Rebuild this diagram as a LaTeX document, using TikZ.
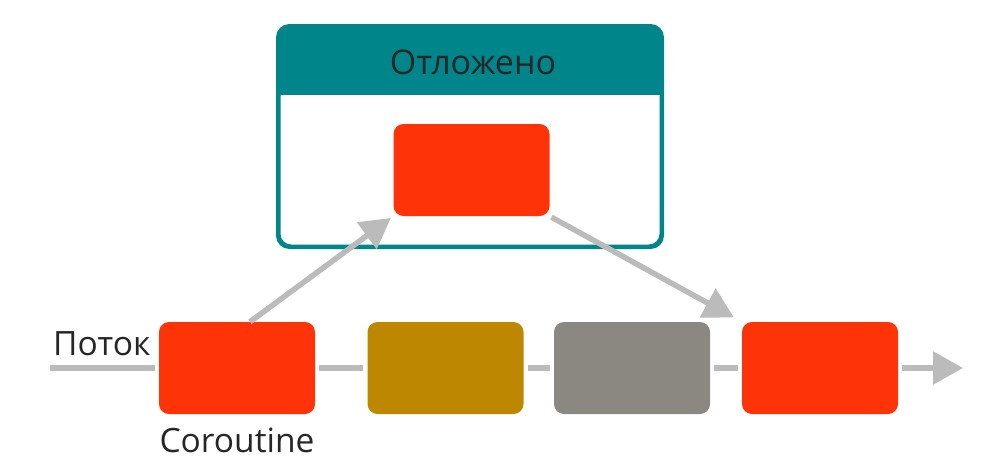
\documentclass[tikz,border=0pt]{standalone}
\usepackage{fontspec}
\setmainfont{Open Sans}
\usetikzlibrary{arrows.meta,positioning,calc}

\definecolor{redbox}{HTML}{FF3308}
\definecolor{goldbox}{HTML}{BD8800}
\definecolor{graybox}{HTML}{8A8880}
\definecolor{tealbox}{HTML}{00858A}
\definecolor{flowline}{HTML}{BBBBBB}

\begin{document}
\begin{tikzpicture}[x=1pt,y=-1pt]
\tikzstyle{task}=[rectangle,rounded corners=10pt,minimum width=156pt,minimum height=92pt,inner sep=0pt]
\tikzstyle{flow}=[draw=flowline,line width=5.5pt]
\tikzstyle{label}=[inner sep=0pt,font=\fontsize{33.5}{40}\selectfont,text=black!85]
\useasboundingbox (0,0) rectangle (1001,469);
% deferred container
\node [draw=tealbox,line width=3pt,rounded corners=12pt,minimum width=382pt,minimum height=219pt] (defer) at (470,136.5) {};
\begin{scope}
  \clip [rounded corners=12pt] (defer.north west) rectangle (defer.south east);
  \fill [tealbox] (defer.north west) rectangle ([yshift=-69pt]defer.north east);
\end{scope}
\draw [tealbox,line width=3pt,rounded corners=12pt] (defer.north west) rectangle (defer.south east);
\node [label,font=\fontsize{34}{40}\selectfont] (title) at (473,62) {Отложено};
\node [task,fill=redbox] (d) at (471.5,170) {};
% the flow
\node [task,fill=redbox] (c1) at (237,368) {};
\node [task,fill=goldbox] (c2) at (445.5,368) {};
\node [task,fill=graybox] (c3) at (632,368) {};
\node [task,fill=redbox] (c4) at (820,368) {};
\coordinate (start) at (50,368);
\coordinate (stop) at (963,368);
\draw [flow,shorten >=4pt] (start) -- (c1.west);
\draw [flow,shorten <=4pt,shorten >=4pt] (c1.east) -- (c2.west);
\draw [flow,shorten <=4pt,shorten >=4pt] (c2.east) -- (c3.west);
\draw [flow,shorten <=4pt,shorten >=4pt] (c3.east) -- (c4.west);
\draw [flow,shorten <=4pt,-{Triangle[length=30pt,width=32pt]}] (c4.east) -- (stop);
% suspend and resume
\draw [flow,shorten >=3pt,-{Triangle[length=30pt,width=32pt]}] ([xshift=13pt]c1.north) -- (d.south west);
\draw [flow,shorten <=2pt,shorten >=9pt,-{Triangle[length=30pt,width=32pt]}] (d.south east) -- (c4.north west);
% texts
\node [label,anchor=base west] (flowname) at (53,355) {Поток};
\node [label,anchor=base] (corname) at (237,452) {Coroutine};
\end{tikzpicture}
\end{document}
